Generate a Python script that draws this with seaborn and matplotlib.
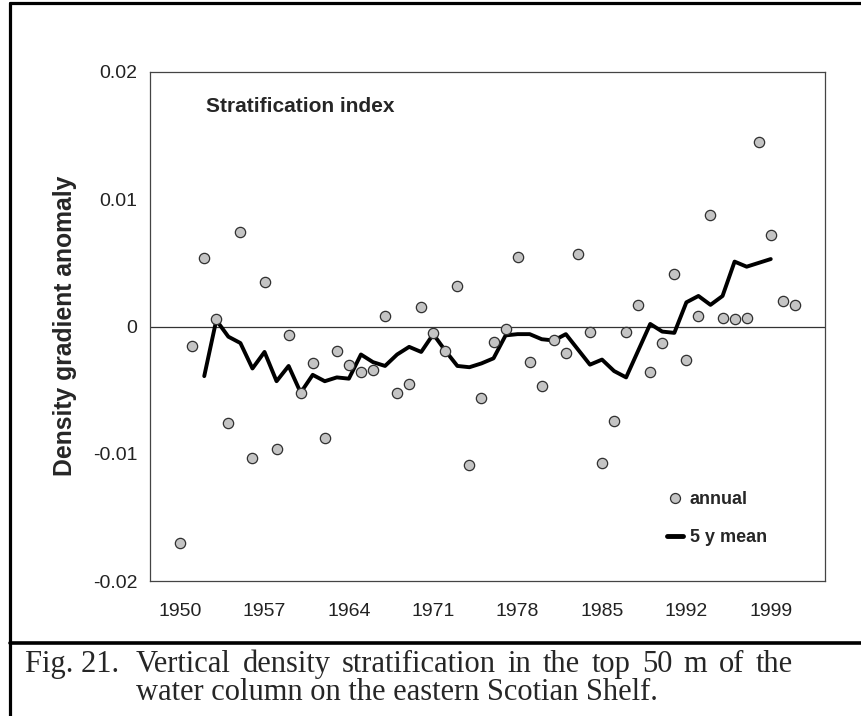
import numpy as np
import pandas as pd
import matplotlib
matplotlib.use('Agg')
import matplotlib.pyplot as plt
from matplotlib.lines import Line2D
import seaborn as sns

# Data ------------------------------------------------------------------------
years = np.arange(1950, 2002)
annual = [-0.0170, -0.0015, 0.0054, 0.0006, -0.0076, 0.0074, -0.0103, 0.0035,
          -0.0096, -0.0007, -0.0052, -0.0029, -0.0088, -0.0019, -0.0030, -0.0036,
          -0.0034, 0.0008, -0.0052, -0.0045, 0.0015, -0.0005, -0.0019, 0.0032,
          -0.0109, -0.0056, -0.0012, -0.0002, 0.0055, -0.0028, -0.0047, -0.0011,
          -0.0021, 0.0057, -0.0004, -0.0107, -0.0074, -0.0004, 0.0017, -0.0036,
          -0.0013, 0.0041, -0.0026, 0.0008, 0.0088, 0.0007, 0.0006, 0.0007,
          0.0145, 0.0072, 0.0020, 0.0017]

mean_years = np.arange(1952, 2000)
mean5 = [-0.0039, 0.0005, -0.0008, -0.0013, -0.0033, -0.0020, -0.0043, -0.0031,
         -0.0052, -0.0038, -0.0043, -0.0040, -0.0041, -0.0022, -0.0028, -0.0031,
         -0.0022, -0.0016, -0.0020, -0.0006, -0.0019, -0.0031, -0.0032, -0.0029,
         -0.0025, -0.0007, -0.0006, -0.0006, -0.0010, -0.0011, -0.0006, -0.0018,
         -0.0030, -0.0026, -0.0035, -0.0040, -0.0019, 0.0002, -0.0004, -0.0005,
         0.0019, 0.0024, 0.0017, 0.0024, 0.0051, 0.0047, 0.0050, 0.0053]

label_years = [1950, 1957, 1964, 1971, 1978, 1985, 1992, 1999]
yticks = [-0.02, -0.01, 0, 0.01, 0.02]
ytick_labels = ['-0.02', '-0.01', '0', '0.01', '0.02']

caption_tag = 'Fig. 21.'
caption_line1 = 'Vertical density stratification in the top 50 m of the'
caption_line2 = 'water column on the eastern Scotian Shelf.'

df_annual = pd.DataFrame({'year': years, 'value': annual})
df_mean = pd.DataFrame({'year': mean_years, 'value': mean5})

# Style -----------------------------------------------------------------------
sns.set_style('white')
plt.rcParams['font.family'] = ['Liberation Sans', 'DejaVu Sans']

W, H = 861, 716
fig = plt.figure(figsize=(W / 100, H / 100), dpi=100)
ax = fig.add_axes([150 / W, 1 - 581 / H, 675 / W, 509 / H])

ax.axhline(0, color='#333333', lw=0.9, zorder=1)
sns.lineplot(data=df_mean, x='year', y='value', ax=ax, color='black', lw=2.8,
             zorder=2, legend=False)
sns.scatterplot(data=df_annual, x='year', y='value', ax=ax, s=55,
                color='#c4c4c4', edgecolor='#303030', linewidth=0.9,
                zorder=3, legend=False)

ax.set_xlim(1947.5, 2003.5)
ax.set_ylim(-0.02, 0.02)
ax.set_xticks(label_years)
ax.set_xticks(years, minor=True)
ax.set_yticks(yticks)
ax.set_yticklabels(ytick_labels)
ax.tick_params(axis='x', which='both', direction='in', length=5, width=0.8,
               color='#333333', pad=16, labelsize=14, labelcolor='#222222')
ax.tick_params(axis='y', direction='in', length=8, width=0.8, color='#333333',
               pad=9, labelsize=14, labelcolor='#222222')
ax.tick_params(axis='y', which='minor', length=0)
ax.set_xlabel('')
ax.set_ylabel('')
for sp in ax.spines.values():
    sp.set_color('#444444')
    sp.set_linewidth(0.9)

ax.text((206 - 150) / 675, (581 - 106) / 509, 'Stratification index',
        transform=ax.transAxes, fontsize=15, fontweight='bold', va='center')
fig.text(65 / W, 1 - 326 / H, 'Density gradient anomaly', rotation=90,
         fontsize=17.8, fontweight='bold', ha='center', va='center')

handles = [Line2D([], [], ls='none', marker='o', ms=7.2, mfc='#c4c4c4',
                  mec='#303030', mew=0.9),
           Line2D([], [], color='black', lw=3.5)]
ax.legend(handles, ['annual', '5 y mean'], loc='upper left',
          bbox_to_anchor=((667 - 150) / 675, (581 - 491) / 509),
          frameon=False, borderpad=0, borderaxespad=0, handlelength=0.9,
          handletextpad=0.35, labelspacing=1.18,
          prop={'weight': 'bold', 'size': 13})

# Figure frame and caption ----------------------------------------------------
lw_frame = 2.3
fig.add_artist(Line2D([10 / W, 10 / W], [0, 1 - 2.5 / H], color='black', lw=lw_frame))
fig.add_artist(Line2D([10 / W, 1], [1 - 2.5 / H, 1 - 2.5 / H], color='black', lw=lw_frame))
fig.add_artist(Line2D([10 / W, 1], [1 - 643 / H, 1 - 643 / H], color='black', lw=2.6))

cap_font = ['Liberation Serif', 'DejaVu Serif']
cap_size = 22
indent, right_edge = 136, 793
y1, y2 = 1 - 672 / H, 1 - 700 / H
fig.text(25 / W, y1, caption_tag, family=cap_font, fontsize=cap_size,
         va='baseline', ha='left')

# first caption line is justified: spread its words between indent and right edge
renderer = fig.canvas.get_renderer()
words = caption_line1.split()
word_texts = [fig.text(0, y1, w, family=cap_font, fontsize=cap_size,
                       va='baseline', ha='left') for w in words]
widths = [t.get_window_extent(renderer).width for t in word_texts]
gap = (right_edge - indent - sum(widths)) / (len(words) - 1)
x = indent
for t, w in zip(word_texts, widths):
    t.set_x(x / W)
    x += w + gap

fig.text(indent / W, y2, caption_line2, family=cap_font, fontsize=cap_size,
         va='baseline', ha='left')

fig.savefig('out.png', dpi=100)
